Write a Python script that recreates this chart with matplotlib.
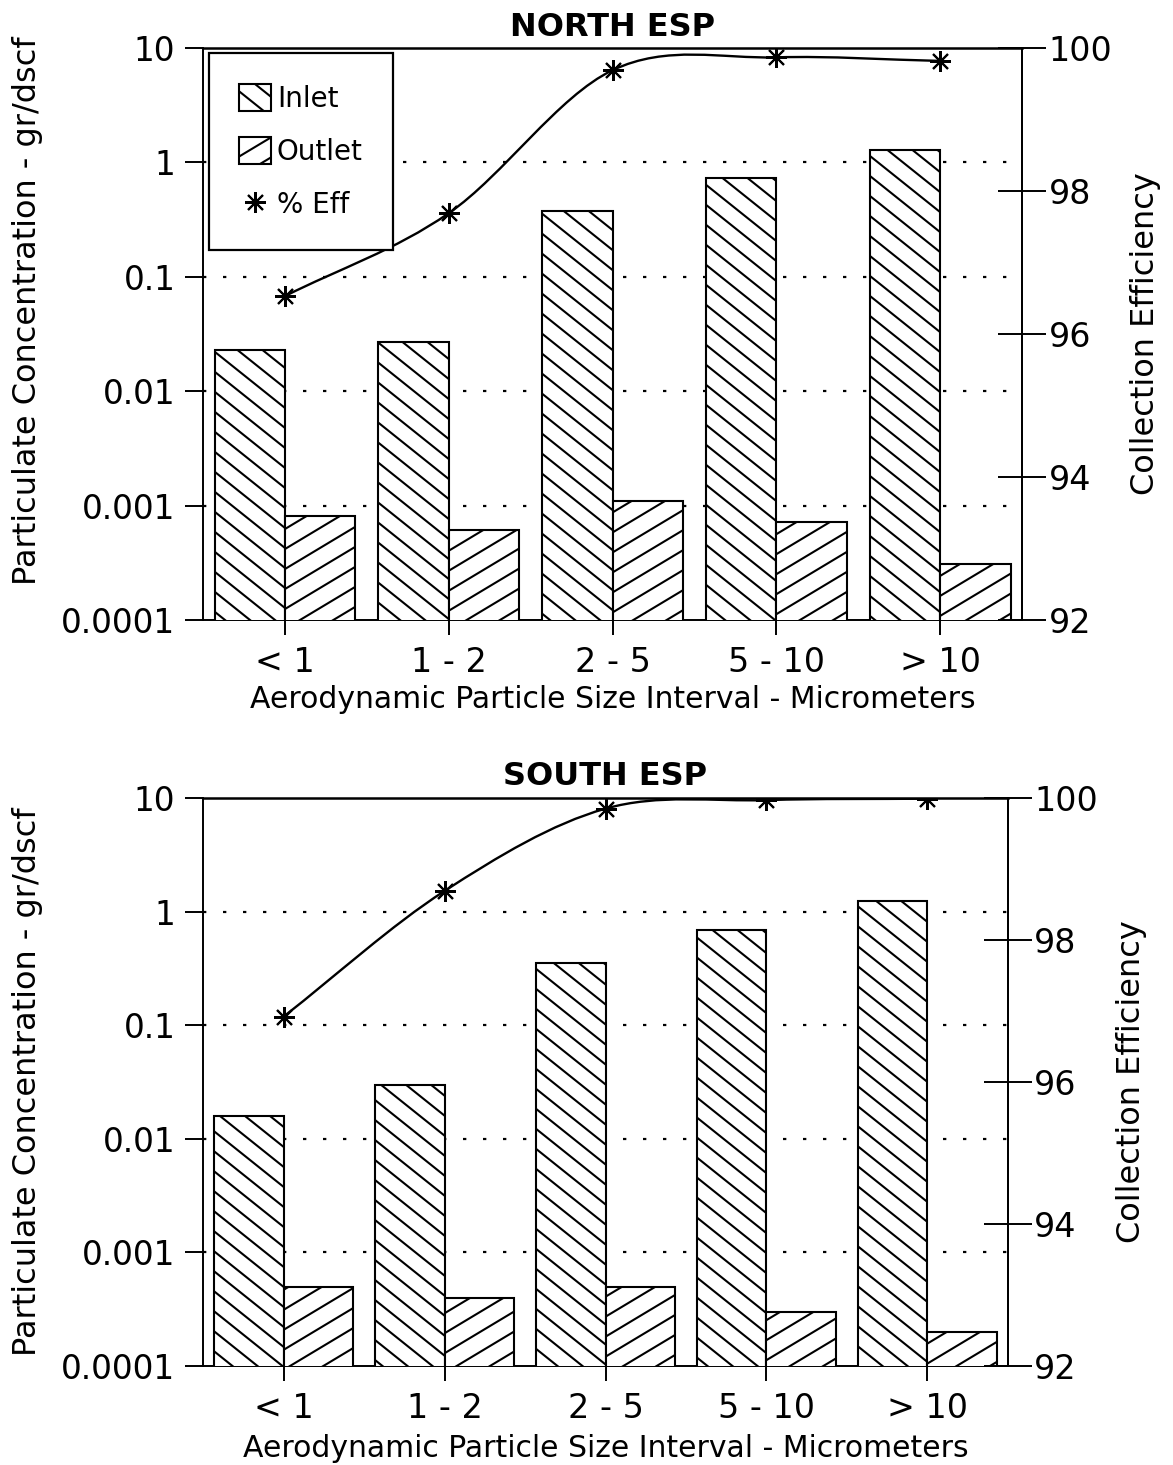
import matplotlib
matplotlib.use("Agg")
import matplotlib.pyplot as plt
import matplotlib.hatch as mhatch
import numpy as np
from matplotlib.path import Path
from matplotlib.patches import PathPatch, Patch
from matplotlib.lines import Line2D

plt.rcParams['font.family'] = ['DejaVu Sans']
plt.rcParams['hatch.linewidth'] = 1.5

categories = ["< 1", "1 - 2", "2 - 5", "5 - 10", "> 10"]

north_inlet = [0.023, 0.027, 0.38, 0.73, 1.29]
north_outlet = [0.00081, 0.00061, 0.0011, 0.00072, 0.00031]
north_eff = [96.53, 97.69, 99.69, 99.87, 99.82]

south_inlet = [0.016, 0.030, 0.35, 0.69, 1.24]
south_outlet = [0.0005, 0.0004, 0.0005, 0.0003, 0.0002]
south_eff = [96.92, 98.69, 99.85, 99.97, 99.99]

left_ticks = [1e-4, 1e-3, 1e-2, 1e-1, 1, 10]
left_labels = ["0.0001", "0.001", "0.01", "0.1", "1", "10"]
right_ticks = [92, 94, 96, 98, 100]


# custom hatch styles (slanted lines at the angles of the original print)
class _SlantHatch(mhatch.HatchPatternBase):
    char = '/'
    slope = 0.6
    nlines = 5

    def __init__(self, hatch, density):
        self.on = hatch.count(self.char) > 0
        if self.on:
            lo = int(np.floor(min(0, -self.slope) * self.nlines)) - 1
            hi = int(np.ceil(max(1, 1 - self.slope) * self.nlines)) + 1
            self.cs = np.arange(lo, hi + 1) / self.nlines
            self.num_vertices = len(self.cs) * 2
        else:
            self.num_vertices = 0

    def set_vertices_and_codes(self, vertices, codes):
        vertices[0::2, 0] = 0.0
        vertices[0::2, 1] = self.cs
        vertices[1::2, 0] = 1.0
        vertices[1::2, 1] = self.cs + self.slope
        codes[0::2] = Path.MOVETO
        codes[1::2] = Path.LINETO


class _OutletHatch(_SlantHatch):
    char = '/'
    slope = 0.6
    nlines = 5


class _InletHatch(_SlantHatch):
    char = '\\'
    slope = -0.8
    nlines = 5


mhatch._hatch_types = [t for t in mhatch._hatch_types
                       if t not in (mhatch.NorthEastHatch, mhatch.SouthEastHatch)]
mhatch._hatch_types += [_OutletHatch, _InletHatch]

fig = plt.figure(figsize=(11.73, 14.65), dpi=100)

TICK_FS = 23.5
XT_FS = 24
RT_FS = 24
LAB_FS = 23


def smooth_path(x, y):
    x = np.asarray(x, float)
    y = np.asarray(y, float)
    n = len(x)
    verts = [(x[0], y[0])]
    codes = [Path.MOVETO]
    for i in range(n - 1):
        i0 = max(i - 1, 0)
        i3 = min(i + 2, n - 1)
        d1 = 2 if i > 0 else 1
        d2 = 2 if i + 2 <= n - 1 else 1
        t1x, t1y = (x[i + 1] - x[i0]) / d1, (y[i + 1] - y[i0]) / d1
        t2x, t2y = (x[i3] - x[i]) / d2, (y[i3] - y[i]) / d2
        verts += [(x[i] + t1x / 3, y[i] + t1y / 3),
                  (x[i + 1] - t2x / 3, y[i + 1] - t2y / 3),
                  (x[i + 1], y[i + 1])]
        codes += [Path.CURVE4] * 3
    return Path(verts, codes)


GRID_STYLE = dict(color='black', linestyle=(0, (1.5, 7.5)), linewidth=1.6, zorder=1)


def make_panel(rect, title, inlet, outlet, eff, legend, ylab_y, xlab_pad, axw_px):
    ax = fig.add_axes(rect)
    x = np.arange(len(categories))
    w = 0.43
    ax.set_yscale('log')
    ax.bar(x - w / 2, inlet, width=w, facecolor='white',
           edgecolor='black', hatch='\\', linewidth=1.5, zorder=3)
    ax.bar(x + w / 2, outlet, width=w, facecolor='white',
           edgecolor='black', hatch='/', linewidth=1.5, zorder=3)
    ax.set_ylim(1e-4, 10)
    ax.set_xlim(-0.5, len(categories) - 0.5)
    ax.set_yticks(left_ticks)
    ax.set_yticklabels(left_labels)
    ax.yaxis.set_minor_locator(matplotlib.ticker.NullLocator())
    ax.set_xticks(x)
    ax.set_xticklabels(categories)
    ax.tick_params(axis='y', direction='out', length=13, width=1.4,
                   labelsize=TICK_FS, pad=7)
    ax.tick_params(axis='x', direction='out', length=11, width=1.4,
                   labelsize=XT_FS, pad=8)
    for yv in left_ticks[1:-1]:
        ax.axhline(yv, **GRID_STYLE)
    for s in ax.spines.values():
        s.set_linewidth(1.4)
    ax.spines['top'].set_linewidth(1.8)
    ax.set_ylabel("Particulate Concentration - gr/dscf", fontsize=LAB_FS)
    ax.yaxis.set_label_coords(-160.0 / axw_px, ylab_y)
    ax.set_xlabel("Aerodynamic Particle Size Interval - Micrometers",
                  fontsize=21.5, labelpad=xlab_pad)
    ax.set_title(title, fontsize=23, fontweight='bold', pad=9)

    ax2 = ax.twinx()
    ax2.set_ylim(92, 100)
    ax2.set_yticks(right_ticks)
    ax2.tick_params(axis='y', direction='inout', length=34, width=1.4,
                    labelsize=RT_FS, pad=2)
    for s in ax2.spines.values():
        s.set_visible(False)
    ax2.spines['right'].set_visible(True)
    ax2.spines['right'].set_linewidth(1.4)
    ax2.set_ylabel("Collection Efficiency", fontsize=LAB_FS, labelpad=13)
    patch = PathPatch(smooth_path(x, eff), facecolor='none', edgecolor='black',
                      linewidth=1.7, zorder=4)
    ax2.add_patch(patch)
    ax2.plot(x, eff, linestyle='none', marker=(8, 2, 0), markersize=15,
             markeredgewidth=1.5, color='black', zorder=5)
    ax2.set_xlim(-0.5, len(categories) - 0.5)

    if legend:
        handles = [Patch(facecolor='white', edgecolor='black', hatch='\\', linewidth=1.5),
                   Patch(facecolor='white', edgecolor='black', hatch='/', linewidth=1.5),
                   Line2D([], [], linestyle='none', marker=(8, 2, 0), markersize=15,
                          markeredgewidth=1.5, color='black')]
        leg = ax2.legend(handles, ["Inlet", "Outlet", "% Eff"], loc='upper left',
                         bbox_to_anchor=(0.007, 0.991), fontsize=20, frameon=True,
                         fancybox=False, edgecolor='black', framealpha=1,
                         borderpad=1.1, labelspacing=0.86, handlelength=1.15,
                         handleheight=1.15, handletextpad=0.2, borderaxespad=0.0)
        leg.get_frame().set_linewidth(1.6)
        leg.set_zorder(10)
    return ax, ax2


make_panel([0.1731, 0.5768, 0.6982, 0.3904], "NORTH ESP",
           north_inlet, north_outlet, north_eff, True, 0.54, 4, 819.0)
make_panel([0.1731, 0.0676, 0.6862, 0.3877], "SOUTH ESP",
           south_inlet, south_outlet, south_eff, False, 0.50, 6, 805.0)

fig.savefig("out.png", dpi=100)
